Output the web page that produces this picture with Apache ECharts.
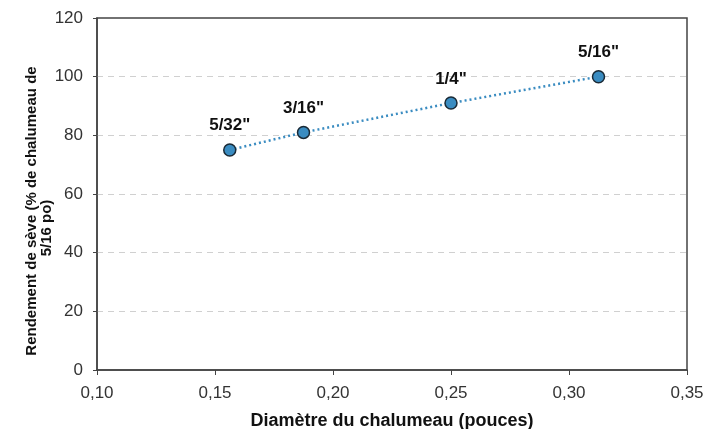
<!DOCTYPE html>
<html>
<head>
<meta charset="utf-8">
<script src="https://cdn.jsdelivr.net/npm/echarts@6/dist/echarts.min.js"></script>
<style>
  html, body { margin: 0; padding: 0; background: #fff; }
  #chart { width: 705px; height: 429px; }
</style>
</head>
<body>
<div id="chart"></div>
<script>
  // diamètre (pouces) et rendement (%)
  const diametres = [0.15625, 0.1875, 0.25, 0.3125];
  const rendements = [75, 81, 91, 100];
  const etiquettes = ['5/32"', '3/16"', '1/4"', '5/16"'];

  const points = diametres.map((d, i) => ({ value: [d, rendements[i]], name: etiquettes[i] }));

  const chart = echarts.init(document.getElementById('chart'));
  chart.setOption({
    animation: false,
    textStyle: { fontFamily: 'Liberation Sans, Arial, sans-serif' },
    grid: {
      left: 97, right: 18, top: 18, bottom: 59,
      containLabel: false, outerBoundsMode: 'none',
      show: true, borderColor: '#444', borderWidth: 1.5
    },
    xAxis: {
      type: 'value', min: 0.1, max: 0.35, interval: 0.05,
      name: 'Diamètre du chalumeau (pouces)', nameLocation: 'middle', nameGap: 42,
      nameMoveOverlap: false,
      nameTextStyle: { fontWeight: 'bold', fontSize: 18, color: '#111' },
      axisLine: { lineStyle: { color: '#444', width: 1.5 } },
      axisTick: { show: true, length: 5, lineStyle: { color: '#444' } },
      axisLabel: { fontSize: 17, color: '#333', margin: 15, formatter: v => v.toFixed(2).replace('.', ',') },
      splitLine: { show: false }
    },
    yAxis: {
      type: 'value', min: 0, max: 120, interval: 20,
      name: '{a|Rendement de sève (% de chalumeau de}\n{b|5/16 po)}', nameLocation: 'middle', nameGap: 43,
      nameMoveOverlap: false,
      nameTextStyle: {
        fontWeight: 'bold', fontSize: 15, color: '#111', lineHeight: 15, padding: [0, 34, 0, 0],
        rich: {
          a: { fontWeight: 'bold', fontSize: 15, color: '#111', lineHeight: 15 },
          b: { fontWeight: 'bold', fontSize: 15, color: '#111', lineHeight: 15, padding: [0, 34, 0, 0] }
        }
      },
      axisLine: { lineStyle: { color: '#444', width: 1.5 } },
      axisTick: { show: true, length: 4, lineStyle: { color: '#444' } },
      axisLabel: { fontSize: 17, color: '#333', margin: 14 },
      splitLine: { showMaxLine: false, showMinLine: false, lineStyle: { color: '#d0d0d0', type: [6, 5] } }
    },
    series: [{
      type: 'line',
      data: points,
      symbol: 'circle', symbolSize: 12,
      itemStyle: { color: '#3a8cc1', borderColor: '#1a2a36', borderWidth: 1.5 },
      lineStyle: { color: '#3a8cc1', width: 2.5, type: [2, 3] },
      label: {
        show: true, position: 'top', distance: 9,
        formatter: p => p.name,
        fontWeight: 'bold', fontSize: 17, color: '#111'
      }
    }]
  });
</script>
</body>
</html>
